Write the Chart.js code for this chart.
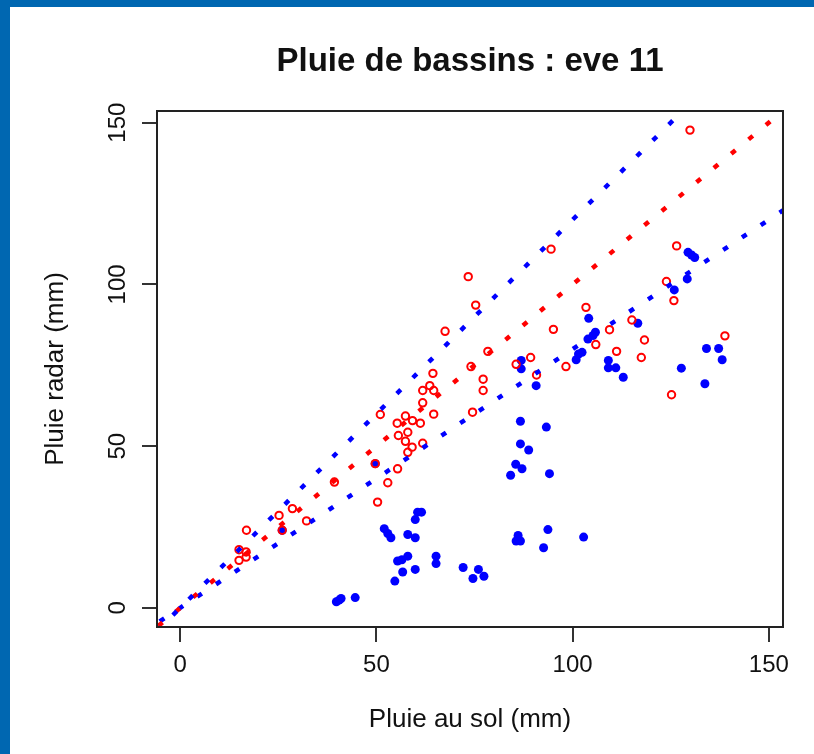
<!DOCTYPE html>
<html>
<head>
<meta charset="utf-8">
<script src="https://cdn.jsdelivr.net/npm/chart.js@4.4.0/dist/chart.umd.min.js"></script>
<style>
  body { margin: 0; background: #0067b1; }
  #cadre { position: absolute; left: 10px; top: 7px; width: 804px; height: 747px; background: #fff; }
</style>
</head>
<body>
<div id="cadre"><canvas id="myChart" width="804" height="747"></canvas></div>
<script>
// rouge : cercles ouverts, bleu : points pleins (pluie au sol / pluie radar, mm)
const solRouge   = [129.9,126.5,94.5,123.9,125.8,103.4,95.1,138.8,78.4,89.3,115.1,109.4,118.3,105.9,111.2,117.5,85.6,98.3,90.8,77.2,77.2,125.2,73.4,75.3,67.5,74.1,64.4,61.8,63.6,64.6,61.8,64.6,74.5,51,57.4,55.3,59.2,61.2,58,55.6,57.4,59.1,58,61.8,49.7,55.4,52.9,50.3,39.3,28.6,25.2,32.2,16.9,15.0,16.8,16.8,15.0,26]
const radarRouge = [147.7,111.9,110.9,100.9,95.0,92.9,86.1,84.1,79.3,77.4,89.0,86.0,82.8,81.4,79.3,77.4,75.3,74.6,72.0,70.7,67.2,65.9,102.4,93.6,85.5,74.6,72.5,67.2,68.7,67.2,63.4,59.9,60.5,59.8,59.3,57.1,57.9,57.1,54.3,53.3,51.5,49.7,48.1,50.9,44.6,43.0,38.7,32.7,38.9,30.7,28.6,26.9,24.0,18.0,17.3,15.7,14.7,24]

const solBleu   = [129.4,130.3,131.1,129.2,125.9,104.1,105.8,105.2,103.9,101.5,100.9,102.4,109.1,109.1,111,112.9,116.6,134.1,137.2,138.1,127.7,133.7,86.9,86.9,90.7,86.7,93.3,86.7,88.8,85.5,87.1,84.2,94.1,60.5,61.5,59.9,52.0,52.9,53.7,58,59.9,55.4,56.5,58,56.7,59.9,54.7,65.2,65.2,72.1,76,77.4,74.6,86.1,85.6,86.7,93.7,92.6,102.8,39.8,41.0,44.6,49.7,26,40.5]
const radarBleu = [109.9,109.1,108.3,101.7,98.3,89.5,85.2,84.2,83.1,78.5,76.7,79.0,76.5,74.2,74.2,71.3,88.0,80.2,80.2,76.7,74.1,69.3,76.5,73.9,68.7,57.7,55.9,50.7,48.8,44.4,43.0,41.0,41.5,29.6,29.6,27.3,24.5,23.0,21.7,22.7,21.7,14.5,14.9,16.0,11.1,11.9,8.3,16.0,13.7,12.5,11.9,9.8,9.1,22.4,20.7,20.7,24.2,18.6,21.9,1.9,2.9,3.2,44.6,24,2.4]

// droites y = a*x
const pentes = [1.2, 1, 0.8]
const couleursDroites = ['#0000ff', '#ff0000', '#0000ff']
const etendue = [-10, 160]

const xTicks = [0, 50, 100, 150]
const yTicks = [0, 50, 100, 150]
const limites = [-5.9, 153.6]

const police = "'Liberation Sans', Arial, sans-serif"

var p = (a, b) => a.map((v, i) => ({x: v, y: b[i]}))

var droites = pentes.map((a, i) => ({
    type: 'line',
    data: etendue.map(x => ({x: x, y: a * x})),
    borderColor: couleursDroites[i],
    borderWidth: 4.5,
    borderDash: [5.5, 17],
    borderCapStyle: 'butt',
    pointRadius: 0,
    fill: false
}))

const boite = {
    id: 'boite',
    afterDraw(chart) {
        const {ctx, chartArea: c} = chart
        ctx.save()
        ctx.strokeStyle = '#222'
        ctx.lineWidth = 2
        ctx.strokeRect(c.left, c.top, c.right - c.left, c.bottom - c.top)
        ctx.restore()
    }
}

var ctx = document.getElementById('myChart')
var myChart = new Chart(ctx, {
    type: 'scatter',
    data: {
        datasets: droites.concat([
            {
                data: p(solRouge, radarRouge),
                pointRadius: 3.7,
                pointBorderWidth: 2,
                borderColor: '#ff0000',
                backgroundColor: 'rgba(0,0,0,0)'
            },
            {
                data: p(solBleu, radarBleu),
                pointRadius: 4.5,
                pointBorderWidth: 0,
                borderColor: '#0000ff',
                backgroundColor: '#0000ff'
            }
        ])
    },
    options: {
        responsive: false,
        animation: false,
        layout: { padding: { top: 35.2, left: 0, right: 31, bottom: 0 } },
        plugins: {
            legend: { display: false },
            tooltip: { enabled: false },
            title: {
                display: true,
                text: 'Pluie de bassins : eve 11',
                fullSize: false,
                color: '#111',
                font: { family: police, size: 33, weight: 'bold', lineHeight: 1.2 },
                padding: { top: 0, bottom: 29.2 }
            }
        },
        scales: {
            x: {
                type: 'linear',
                min: limites[0],
                max: limites[1],
                afterBuildTicks: s => { s.ticks = xTicks.map(v => ({value: v})) },
                afterFit: s => { s.height = 127 },
                grid: { drawOnChartArea: false, drawTicks: true, tickLength: 15, color: '#333', lineWidth: 2 },
                border: { display: false },
                ticks: { color: '#111', padding: 8.6, maxRotation: 0, font: { family: police, size: 24 } },
                title: {
                    display: true,
                    text: 'Pluie au sol (mm)',
                    color: '#111',
                    font: { family: police, size: 26, lineHeight: 1.2 },
                    padding: { top: 0, bottom: 18.4 }
                }
            },
            y: {
                type: 'linear',
                min: limites[0],
                max: limites[1],
                afterBuildTicks: s => { s.ticks = yTicks.map(v => ({value: v})) },
                afterFit: s => { s.width = 147 },
                grid: { drawOnChartArea: false, drawTicks: true, tickLength: 15, color: '#333', lineWidth: 2 },
                border: { display: false },
                ticks: { color: '#111', padding: 4, minRotation: 90, maxRotation: 90, crossAlign: 'center', font: { family: police, size: 24 } },
                title: {
                    display: true,
                    text: 'Pluie radar (mm)',
                    color: '#111',
                    font: { family: police, size: 26, lineHeight: 1.2 },
                    padding: { top: 30.4, bottom: 0 }
                }
            }
        }
    },
    plugins: [boite]
})
</script>
</body>
</html>
